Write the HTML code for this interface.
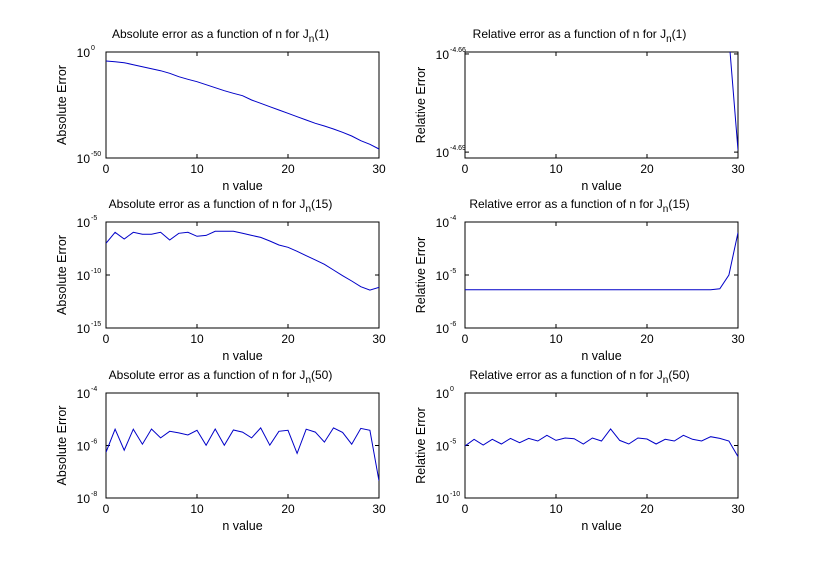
<!DOCTYPE html>
<html><head><meta charset="utf-8"><style>
body{margin:0;background:#fff;}
svg text{font-family:"Liberation Sans",sans-serif;fill:#000;}
</style></head><body>
<svg id="fig" width="815" height="570"></svg>
<script>
// data (log10 values), n = 0..30
const nValues = Array.from({length:31},(_,i)=>i);
const absJ1 = [-4.25,-4.56,-5.03,-5.97,-6.92,-7.86,-8.80,-10.06,-11.63,-12.89,-13.99,-15.41,-16.82,-18.24,-19.50,-20.6,-22.64,-24.21,-25.79,-27.36,-28.93,-30.50,-32.08,-33.65,-34.91,-36.32,-37.89,-39.62,-41.82,-43.55,-45.75];
const relJ1 = [-4.6,-4.6,-4.6,-4.6,-4.6,-4.6,-4.6,-4.6,-4.6,-4.6,-4.6,-4.6,-4.6,-4.6,-4.6,-4.6,-4.6,-4.6,-4.6,-4.6,-4.6,-4.6,-4.6,-4.6,-4.6,-4.6,-4.6,-4.6,-4.6,-4.655,-4.6894];
const absJ15 = [-7.01,-5.97,-6.60,-5.97,-6.16,-6.16,-5.97,-6.70,-6.07,-5.97,-6.35,-6.26,-5.88,-5.88,-5.88,-6.07,-6.26,-6.45,-6.79,-7.17,-7.39,-7.76,-8.18,-8.58,-8.99,-9.53,-10.07,-10.57,-11.10,-11.42,-11.16];
const relJ15 = [-5.28,-5.28,-5.28,-5.28,-5.28,-5.28,-5.28,-5.28,-5.28,-5.28,-5.28,-5.28,-5.28,-5.28,-5.28,-5.28,-5.28,-5.28,-5.28,-5.28,-5.28,-5.28,-5.28,-5.28,-5.28,-5.28,-5.28,-5.28,-5.26,-5.0,-4.2];
const absJ50 = [-6.26,-5.38,-6.18,-5.38,-5.95,-5.37,-5.71,-5.46,-5.52,-5.60,-5.42,-5.99,-5.37,-5.99,-5.41,-5.49,-5.71,-5.33,-5.99,-5.46,-5.42,-6.30,-5.38,-5.49,-5.87,-5.33,-5.50,-5.95,-5.35,-5.42,-7.35];
const relJ50 = [-5.05,-4.41,-4.95,-4.41,-4.86,-4.32,-4.73,-4.32,-4.57,-4.03,-4.51,-4.29,-4.35,-4.86,-4.29,-4.57,-3.43,-4.51,-4.86,-4.29,-4.38,-4.86,-4.41,-4.57,-4.03,-4.41,-4.57,-4.16,-4.32,-4.57,-6.06];
const xTicks = [0,10,20,30];

const NS="http://www.w3.org/2000/svg";
const svg=document.getElementById('fig');
function mk(tag,attrs,parent){const e=document.createElementNS(NS,tag);for(const k in attrs)e.setAttribute(k,attrs[k]);(parent||svg).appendChild(e);return e;}

const panels=[
 {x0:106,x1:379,y0:52,y1:158,ymax:0,ymin:-50,yt:[0,-50],ytl:['0','-50'],data:absJ1,kind:'Absolute',arg:'1',tY:38,ylab:'Absolute Error',name:'abs-j1'},
 {x0:465,x1:738,y0:52,y1:158,ymax:-4.6594,ymin:-4.6918,yt:[-4.66,-4.69],ytl:['-4.66','-4.69'],data:relJ1,kind:'Relative',arg:'1',tY:38,ylab:'Relative Error',name:'rel-j1'},
 {x0:106,x1:379,y0:222,y1:328,ymax:-5,ymin:-15,yt:[-5,-10,-15],ytl:['-5','-10','-15'],data:absJ15,kind:'Absolute',arg:'15',tY:208,ylab:'Absolute Error',name:'abs-j15'},
 {x0:465,x1:738,y0:222,y1:328,ymax:-4,ymin:-6,yt:[-4,-5,-6],ytl:['-4','-5','-6'],data:relJ15,kind:'Relative',arg:'15',tY:208,ylab:'Relative Error',name:'rel-j15'},
 {x0:106,x1:379,y0:393,y1:498,ymax:-4,ymin:-8,yt:[-4,-6,-8],ytl:['-4','-6','-8'],data:absJ50,kind:'Absolute',arg:'50',tY:379,ylab:'Absolute Error',name:'abs-j50'},
 {x0:465,x1:738,y0:393,y1:498,ymax:0,ymin:-10,yt:[0,-5,-10],ytl:['0','-5','-10'],data:relJ50,kind:'Relative',arg:'50',tY:379,ylab:'Relative Error',name:'rel-j50'}
];

panels.forEach((p,pi)=>{
  const g=mk('g',{});
  
  
  const sx=v=>p.x0+(v-0)/(30-0)*(p.x1-p.x0);
  const sy=v=>p.y0+(p.ymax-v)/(p.ymax-p.ymin)*(p.y1-p.y0);
  const cid='clip'+pi;
  const cp=mk('clipPath',{id:cid},g);
  mk('rect',{x:p.x0,y:p.y0,width:p.x1-p.x0,height:p.y1-p.y0},cp);
  const bg=mk('rect',{x:p.x0,y:p.y0,width:p.x1-p.x0,height:p.y1-p.y0,fill:'#fff',stroke:'#000','stroke-width':1},g);
  
  
  xTicks.forEach(t=>{
    const x=sx(t);
    mk('line',{x1:x,x2:x,y1:p.y1,y2:p.y1-4,stroke:'#000'},g);
    mk('line',{x1:x,x2:x,y1:p.y0,y2:p.y0+4,stroke:'#000'},g);
    const tl=mk('text',{x:x,y:p.y1+15,'text-anchor':'middle','font-size':'12'},g);
    tl.textContent=t;
    
    
  });
  p.yt.forEach((t,i)=>{
    const y=sy(t);
    mk('line',{x1:p.x0,x2:p.x0+4,y1:y,y2:y,stroke:'#000'},g);
    mk('line',{x1:p.x1,x2:p.x1-4,y1:y,y2:y,stroke:'#000'},g);
    const tl=mk('text',{x:p.x0-16,y:y+5,'text-anchor':'end','font-size':'12'},g);
    tl.textContent='10';
    
    
    const ex=mk('text',{x:p.x0-15,y:y-2,'text-anchor':'start','font-size':'7'},g);
    ex.textContent=p.ytl[i];
    
    
  });
  const pts=p.data.map((v,i)=>sx(nValues[i]).toFixed(1)+','+sy(v).toFixed(1)).join(' ');
  const ln=mk('polyline',{points:pts,fill:'none',stroke:'#0000c8','stroke-width':1,'clip-path':'url(#'+cid+')'},g);
  
  
  const cx=(p.x0+p.x1)/2-22;
  const tt=mk('text',{x:cx,y:p.tY,'text-anchor':'middle','font-size':'12'},g);
  tt.innerHTML=p.kind+' error as a function of n for J<tspan dy="4" font-size="10">n</tspan><tspan dy="-4">('+p.arg+')</tspan>';
  
  
  const xl=mk('text',{x:(p.x0+p.x1)/2,y:p.y1+32,'text-anchor':'middle','font-size':'12.5'},g);
  xl.textContent='n value';
  
  
  const yc=(p.y0+p.y1)/2, xx=p.x0-40;
  const yl=mk('text',{x:xx,y:yc,'text-anchor':'middle','font-size':'12.5',transform:'rotate(-90 '+xx+' '+yc+')'},g);
  yl.textContent=p.ylab;
  
  
});
</script>
</body></html>
